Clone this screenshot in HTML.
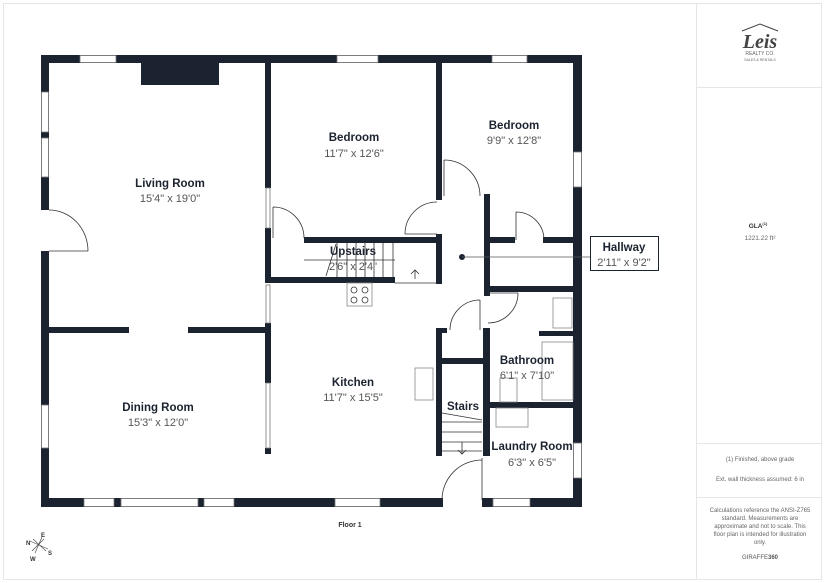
<!DOCTYPE html>
<html><head><meta charset="utf-8"><style>
html,body{margin:0;padding:0;background:#fff;}
svg{display:block;}
text{font-family:"Liberation Sans",sans-serif;}
.t{font-size:11.5px;font-weight:bold;fill:#1c2330;text-anchor:middle;}
.d{font-size:11px;fill:#555;text-anchor:middle;}
.s{font-size:6px;fill:#666;text-anchor:middle;}
</style></head><body>
<svg width="825" height="583" viewBox="0 0 825 583" xmlns="http://www.w3.org/2000/svg">
<rect x="3.5" y="3.5" width="818" height="576" fill="none" stroke="#e6e6e6"/>
<line x1="696.5" y1="3" x2="696.5" y2="580" stroke="#e6e6e6"/>
<line x1="696" y1="87.5" x2="822" y2="87.5" stroke="#e6e6e6"/>
<line x1="696" y1="443.5" x2="822" y2="443.5" stroke="#e6e6e6"/>
<line x1="696" y1="497.5" x2="822" y2="497.5" stroke="#e6e6e6"/>

<g fill="#1c2330">
<!-- outer walls -->
<rect x="41" y="55" width="541" height="8"/>
<rect x="41" y="55" width="8" height="452"/>
<rect x="573" y="55" width="9" height="452"/>
<rect x="41" y="498" width="404" height="9"/>
<rect x="482" y="498" width="100" height="9"/>
<!-- fireplace -->
<rect x="141" y="63" width="78" height="22"/>
<!-- interior -->
<rect x="265" y="63" width="6" height="125"/>
<rect x="265" y="228" width="6" height="55"/>
<rect x="265" y="323" width="6" height="60"/>
<rect x="265" y="448" width="6" height="6"/>
<rect x="49" y="327" width="80" height="6"/>
<rect x="188" y="327" width="83" height="6"/>
<rect x="436" y="63" width="6" height="137"/>
<rect x="304" y="237" width="138" height="6"/>
<rect x="271" y="277" width="124" height="6"/>
<rect x="436" y="234" width="6" height="50"/>
<rect x="484" y="194" width="6" height="102"/>
<rect x="490" y="237" width="25" height="6"/>
<rect x="543" y="237" width="30" height="6"/>
<rect x="490" y="286" width="83" height="6"/>
<rect x="539" y="331" width="34" height="5"/>
<rect x="436" y="328" width="6" height="128"/>
<rect x="436" y="328" width="11" height="5"/>
<rect x="483" y="328" width="7" height="128"/>
<rect x="441" y="358" width="42" height="6"/>
<rect x="490" y="402" width="83" height="6"/>
</g>
<!-- windows -->
<g fill="#fff" stroke="#777" stroke-width="0.8">
<rect x="80" y="55.5" width="36" height="7"/>
<rect x="337" y="55.5" width="41" height="7"/>
<rect x="492" y="55.5" width="35" height="7"/>
<rect x="41.5" y="92" width="7" height="40"/>
<rect x="41.5" y="138" width="7" height="39"/>
<rect x="41.5" y="405" width="7" height="43"/>
<rect x="84" y="498.5" width="30" height="8"/>
<rect x="121" y="498.5" width="77" height="8"/>
<rect x="204" y="498.5" width="30" height="8"/>
<rect x="335" y="498.5" width="45" height="8"/>
<rect x="493" y="498.5" width="37" height="8"/>
<rect x="573.5" y="152" width="8" height="35"/>
<rect x="573.5" y="443" width="8" height="35"/>
<rect x="266" y="188" width="4" height="40"/>
<rect x="266" y="285" width="4" height="38"/>
<rect x="266" y="383" width="4" height="65"/>
</g>
<rect x="41" y="210" width="8" height="41" fill="#fff"/>
<rect x="443" y="498" width="39" height="9" fill="#fff"/>
<!-- doors -->
<g fill="none" stroke="#333" stroke-width="0.8">
<path d="M49 251 L88 251 M88 251 A39 41 0 0 0 49 210"/>
<path d="M273 207 L273 238 M273 207 A31 31 0 0 1 304 238"/>
<path d="M437 234 L405 234 M405 234 A32 32 0 0 1 437 202"/>
<path d="M444 196 L444 160 M444 160 A36 36 0 0 1 480 196"/>
<path d="M516 240 L516 212 M516 212 A28 28 0 0 1 544 240"/>
<path d="M480 330 L480 300 M480 300 A30 30 0 0 0 450 330"/>
<path d="M488 293 L518 293 M518 293 A30 30 0 0 1 488 323"/>
<path d="M482 458 L482 500 M482 460 A40 40 0 0 0 442 500"/>
<!-- stairs upstairs -->
<path d="M337 243V277 M347 243V277 M356 243V277 M365 243V277 M374 243V277 M383 243V277 M393 243V277 M304 260H395 M395 283H437 M336 244 L326 276"/>
<path d="M415 279 L415 270 M411 274 L415 270 L419 274"/>
<!-- stairs down -->
<path d="M442 413 L482 420 M442 422H482 M442 432H482 M442 442H482 M442 451H482 M462 442 L462 454 M458 450 L462 454 L466 450"/>
<!-- fixtures -->
<rect x="347" y="283" width="25" height="23" stroke="#888"/>
<circle cx="354" cy="290" r="3"/><circle cx="365" cy="290" r="3"/><circle cx="354" cy="300" r="3"/><circle cx="365" cy="300" r="3"/>
<rect x="415" y="368" width="18" height="32" stroke="#888"/>
<rect x="553" y="298" width="19" height="30" stroke="#888"/>
<rect x="542" y="342" width="31" height="58" stroke="#888"/>
<rect x="500" y="378" width="17" height="24" stroke="#888"/>
<rect x="496" y="408" width="32" height="19" stroke="#888"/>
</g>
<!-- hallway -->
<circle cx="462" cy="257" r="3" fill="#1c2330"/>
<line x1="462" y1="257" x2="590" y2="257" stroke="#555" stroke-width="0.8"/>
<rect x="590.5" y="236.5" width="68" height="34" fill="#fff" stroke="#1c2330" stroke-width="1"/>
<text class="t" x="624" y="251">Hallway</text>
<text class="d" x="624" y="266">2'11" x 9'2"</text>

<text class="t" x="170" y="187">Living Room</text>
<text class="d" x="170" y="202">15'4" x 19'0"</text>
<text class="t" x="354" y="141">Bedroom</text>
<text class="d" x="354" y="157">11'7" x 12'6"</text>
<text class="t" x="514" y="129">Bedroom</text>
<text class="d" x="514" y="144">9'9" x 12'8"</text>
<text class="t" x="353" y="255">Upstairs</text>
<text class="d" x="353" y="270">2'6" x 2'4"</text>
<text class="t" x="353" y="386">Kitchen</text>
<text class="d" x="353" y="401">11'7" x 15'5"</text>
<text class="t" x="158" y="411">Dining Room</text>
<text class="d" x="158" y="426">15'3" x 12'0"</text>
<text class="t" x="527" y="364">Bathroom</text>
<text class="d" x="527" y="379">6'1" x 7'10"</text>
<text class="t" x="463" y="410">Stairs</text>
<text class="t" x="532" y="450">Laundry Room</text>
<text class="d" x="532" y="466">6'3" x 6'5"</text>
<text x="350" y="527" style="font-size:7px;font-weight:bold;fill:#333;text-anchor:middle">Floor 1</text>
<!-- compass -->
<g stroke="#444" stroke-width="0.6">
<line x1="30" y1="541" x2="48" y2="549"/><line x1="42" y1="537" x2="35" y2="553"/><line x1="33" y1="539" x2="46" y2="551"/><line x1="44" y1="539" x2="32" y2="551"/>
</g>
<text x="26" y="545" style="font-size:6px;font-weight:bold;fill:#333">N</text>
<text x="41" y="537" style="font-size:6px;font-weight:bold;fill:#333">E</text>
<text x="48" y="555" style="font-size:6px;font-weight:bold;fill:#333">S</text>
<text x="30" y="561" style="font-size:6px;font-weight:bold;fill:#333">W</text>
<!-- right panel -->
<path d="M742 31 L760 24 L778 31" fill="none" stroke="#444" stroke-width="1"/>
<text x="760" y="48" style="font-family:'Liberation Serif',serif;font-style:italic;font-weight:bold;font-size:20px;fill:#444;text-anchor:middle">Leis</text>
<text x="760" y="55" style="font-size:5px;fill:#666;text-anchor:middle">REALTY CO.</text>
<text x="760" y="61" style="font-size:3.5px;fill:#666;text-anchor:middle">SALES &amp; RENTALS</text>
<text x="758" y="228" style="font-size:6.5px;font-weight:bold;fill:#333;text-anchor:middle">GLA<tspan font-size="4" dy="-3">(1)</tspan></text>
<text x="760" y="240" class="s" style="font-size:6.5px">1221.22 ft²</text>
<text x="760" y="461" class="s">(1) Finished, above grade</text>
<text x="760" y="481" class="s">Ext. wall thickness assumed: 6 in</text>
<text x="760" y="512" class="s">Calculations reference the ANSI-Z765</text>
<text x="760" y="520" class="s">standard. Measurements are</text>
<text x="760" y="528" class="s">approximate and not to scale. This</text>
<text x="760" y="536" class="s">floor plan is intended for illustration</text>
<text x="760" y="544" class="s">only.</text>
<text x="760" y="559" style="font-size:6px;fill:#555;text-anchor:middle">GIRAFFE<tspan font-weight="bold">360</tspan></text>
</svg>
</body></html>
